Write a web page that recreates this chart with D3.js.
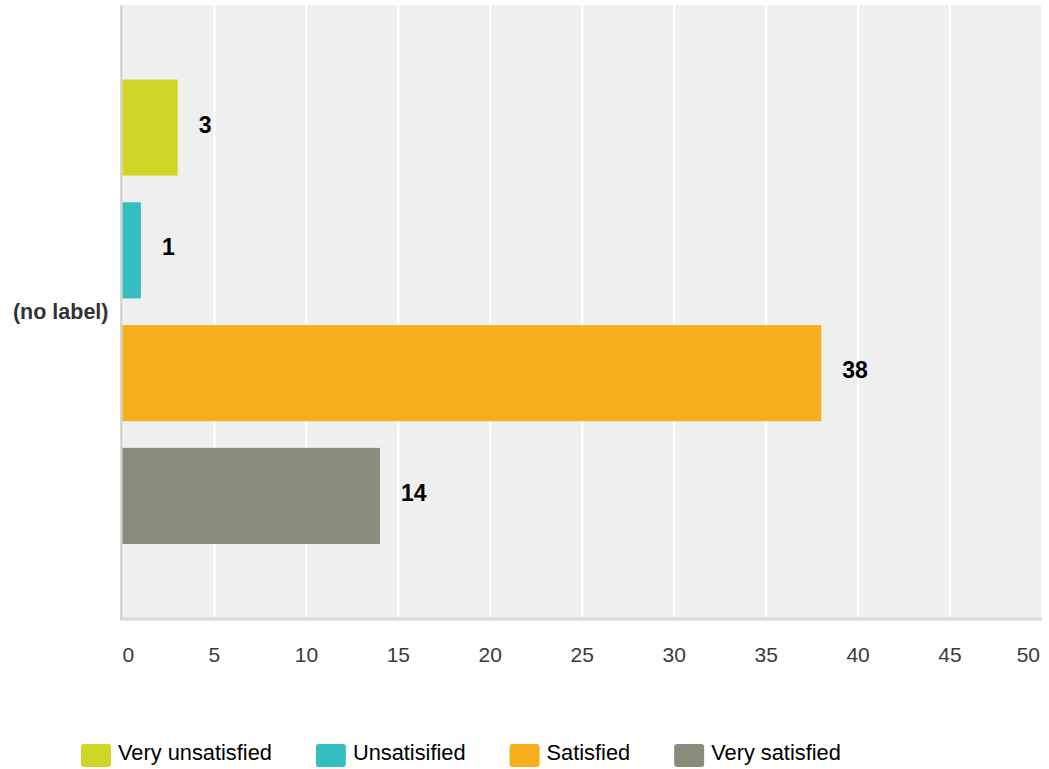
<!DOCTYPE html>
<html>
<head>
<meta charset="utf-8">
<script src="https://cdn.jsdelivr.net/npm/d3@7"></script>
<style>
  html, body { margin: 0; padding: 0; background: #fff; }
  svg { display: block; font-family: "Liberation Sans", Arial, sans-serif; }
</style>
</head>
<body>
<svg id="chart" width="1049" height="769"></svg>
<script>
const categories = ["(no label)"];
const seriesNames = ["Very unsatisfied", "Unsatisified", "Satisfied", "Very satisfied"];
const seriesValues = [3, 1, 38, 14];
const seriesColors = ["#d0d628", "#35bec1", "#f6ae1f", "#8a8b7a"];
const xTicks = [0, 5, 10, 15, 20, 25, 30, 35, 40, 45, 50];

const svg = d3.select("#chart");
const plot = { left: 122.5, right: 1042, top: 5, bottom: 618.5 };

const x = d3.scaleLinear().domain([0, 50]).range([plot.left, plot.right]);
const y0 = d3.scaleBand().domain(categories).range([plot.top, plot.bottom]).padding(0);
const y1 = d3.scaleBand().domain(seriesNames).range([0, y0.bandwidth()])
  .paddingInner(0.2176).paddingOuter(0.607);

// background
svg.append("rect")
  .attr("x", plot.left).attr("y", plot.top)
  .attr("width", plot.right - plot.left).attr("height", plot.bottom - plot.top)
  .attr("fill", "#efefef");

// gridlines
svg.append("g").selectAll("line").data(xTicks.filter(d => d > 0)).join("line")
  .attr("x1", d => x(d)).attr("x2", d => x(d))
  .attr("y1", plot.top).attr("y2", plot.bottom)
  .attr("stroke", "#ffffff").attr("stroke-width", 2);

// axes lines
svg.append("line")
  .attr("x1", plot.left - 0.5).attr("x2", plot.right)
  .attr("y1", plot.bottom + 0.5).attr("y2", plot.bottom + 0.5)
  .attr("stroke", "#dcdcdc").attr("stroke-width", 3.5);
svg.append("line")
  .attr("x1", plot.left - 1.2).attr("x2", plot.left - 1.2)
  .attr("y1", plot.top).attr("y2", plot.bottom + 2)
  .attr("stroke", "#cccccc").attr("stroke-width", 2);

// bars
const data = seriesNames.map((s, i) => ({ cat: categories[0], name: s, value: seriesValues[i], color: seriesColors[i] }));
const g = svg.append("g");
g.selectAll("rect").data(data).join("rect")
  .attr("x", x(0))
  .attr("y", d => y0(d.cat) + y1(d.name))
  .attr("width", d => x(d.value) - x(0))
  .attr("height", y1.bandwidth())
  .attr("fill", d => d.color);

// value labels
g.selectAll("text").data(data).join("text")
  .attr("x", d => x(d.value) + 21)
  .attr("y", d => y0(d.cat) + y1(d.name) + y1.bandwidth() / 2 + 5)
  .attr("font-size", 23).attr("font-weight", "bold").attr("fill", "#000")
  .text(d => d.value);

// x tick labels
svg.append("g").selectAll("text").data(xTicks).join("text")
  .attr("x", (d, i) => i === 0 ? x(d) : (i === xTicks.length - 1 ? x(d) - 2 : x(d)))
  .attr("y", 662)
  .attr("text-anchor", (d, i) => i === 0 ? "start" : (i === xTicks.length - 1 ? "end" : "middle"))
  .attr("font-size", 21).attr("fill", "#3a3a3a")
  .text(d => d);

// category label
svg.append("g").selectAll("text").data(categories).join("text")
  .attr("x", plot.left - 14)
  .attr("y", d => y0(d) + y0.bandwidth() / 2 + 7)
  .attr("text-anchor", "end")
  .attr("font-size", 21.5).attr("font-weight", "bold").attr("fill", "#333")
  .text(d => d);

// legend
const legend = svg.append("g");
let lx = 81;
seriesNames.forEach((s, i) => {
  legend.append("rect")
    .attr("x", lx).attr("y", 744).attr("width", 30).attr("height", 23)
    .attr("rx", 3).attr("ry", 3).attr("fill", seriesColors[i]);
  const t = legend.append("text")
    .attr("x", lx + 37).attr("y", 760)
    .attr("font-size", 21.8).attr("fill", "#000")
    .text(s);
  lx += 37 + t.node().getComputedTextLength() + 44;
});
</script>
</body>
</html>
